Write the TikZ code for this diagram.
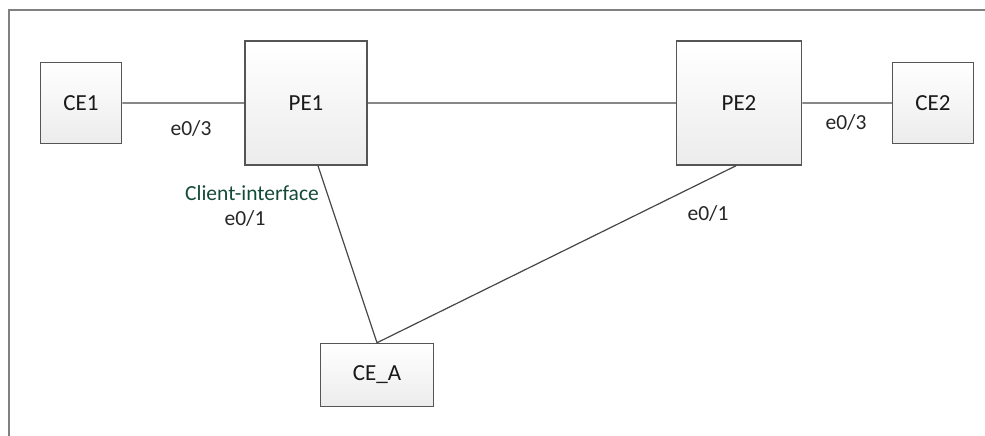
\documentclass[tikz,border=0pt]{standalone}
\usepackage{fontspec}
\setmainfont{Carlito}
\definecolor{boxline}{RGB}{85,85,85}
\definecolor{wire}{RGB}{70,70,70}
\definecolor{frame}{RGB}{128,128,128}
\definecolor{ifgreen}{RGB}{20,75,55}
\tikzset{
  router/.style={draw=boxline,line width=1.5pt,top color=white,bottom color=gray!15,
    inner sep=0pt,font=\fontsize{23}{23}\selectfont,text=black!90},
  port/.style={inner sep=0pt,font=\fontsize{21.5}{21.5}\selectfont,text=black!85}
}
\begin{document}
\begin{tikzpicture}[x=1pt,y=-1pt]
\useasboundingbox (0,0) rectangle (985,436);
% outer frame
\draw[frame,line width=2pt] (995,10.5) -- (8.5,10.5) -- (8.5,446);
% routers
\node[router,minimum width=81pt,minimum height=81pt] (CE1) at (81,103) {CE1};
\node[router,minimum width=122pt,minimum height=124pt] (PE1) at (306,103) {PE1};
\node[router,minimum width=125pt,minimum height=124pt] (PE2) at (739,103) {PE2};
\node[router,minimum width=81pt,minimum height=81pt] (CE2) at (933,103) {CE2};
\node[router,minimum width=113pt,minimum height=63pt] (CEA) at (377,375) {CE\_A};
% links
\draw[wire,line width=1.2pt] (CE1) -- (PE1) (PE1) -- (PE2) (PE2) -- (CE2)
      ([xshift=12pt]PE1.south) -- (CEA.north)
      ([xshift=-3pt]PE2.south) -- (CEA.north);
% interface names
\node[port] (p13) at (191,128) {e0/3};
\node[port,text=ifgreen] (cif) at (252,193) {Client-interface};
\node[port] (p11) at (245,218) {e0/1};
\node[port] (p23) at (846,122) {e0/3};
\node[port] (p21) at (708,213) {e0/1};
\end{tikzpicture}
\end{document}
